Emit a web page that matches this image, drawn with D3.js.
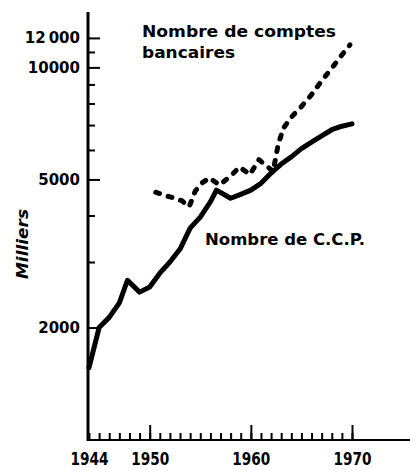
<!DOCTYPE html>
<html>
<head>
<meta charset="utf-8">
<script src="https://cdn.jsdelivr.net/npm/d3@7"></script>
<style>
  html, body { margin: 0; padding: 0; background: #fff; }
  svg { display: block; }
</style>
</head>
<body>
<div id="chart"></div>
<script>
// ── Data (milliers) ──────────────────────────────────────────────────────────
const ccpYears  = [1944, 1945, 1946, 1947, 1947.8, 1949, 1950, 1951, 1952, 1953, 1954, 1955, 1956, 1956.6, 1958, 1959, 1960, 1961, 1962, 1963, 1964, 1965, 1966, 1967, 1968, 1969, 1970];
const ccpValues = [1560, 2000, 2130, 2330, 2680, 2490, 2570, 2800, 3000, 3250, 3700, 3960, 4350, 4680, 4450, 4560, 4680, 4880, 5200, 5500, 5750, 6050, 6300, 6550, 6800, 6950, 7050];

const bankYears  = [1950.6, 1951.5, 1952.5, 1953.2, 1953.9, 1954.5, 1955.2, 1955.9, 1956.9, 1957.9, 1958.9, 1959.9, 1960.8, 1961.5, 1962.2, 1962.7, 1963.2, 1963.9, 1965, 1966, 1967, 1968, 1969, 1969.8];
const bankValues = [4620, 4530, 4450, 4380, 4220, 4650, 4900, 5050, 4830, 5080, 5400, 5150, 5650, 5450, 5250, 6200, 6850, 7300, 7850, 8450, 9200, 9950, 10800, 11500];

const yMajorTicks  = [2000, 5000, 10000, 12000];
const yTickLabels  = ['2000', '5000', '10000', '12\u2009000'];
const yMinorTicks  = [3000, 4000, 6000, 7000, 8000, 9000, 11000];
const xMajorYears  = [1944, 1950, 1960, 1970];
const xMinorYears  = d3.range(1944, 1971);

const bankLabel = ['Nombre de comptes', 'bancaires'];
const ccpLabel  = 'Nombre de C.C.P.';
const yTitle    = 'Milliers';

// ── Layout ───────────────────────────────────────────────────────────────────
const W = 410, H = 470;
const axisX = 88, axisY = 440;
const font = 'DejaVu Sans, Verdana, sans-serif';

const x = d3.scaleLinear().domain([1944, 1970]).range([89, 352]);
const y = d3.scaleLog().domain([1000, 14000]).range([439.6, 13]);

const svg = d3.select('#chart')
  .append('svg')
  .attr('width', W)
  .attr('height', H)
  .style('font-family', font);

// ── Y axis ───────────────────────────────────────────────────────────────────
const yMajor = svg.append('g')
  .attr('transform', `translate(${axisX},0)`)
  .call(d3.axisRight(y).tickValues(yMajorTicks).tickSize(12).tickFormat(''));
const yMinor = svg.append('g')
  .attr('transform', `translate(${axisX},0)`)
  .call(d3.axisRight(y).tickValues(yMinorTicks).tickSize(7).tickFormat(''));
[yMajor, yMinor].forEach(g => {
  g.select('.domain').remove();
  g.selectAll('line').attr('stroke', '#000').attr('stroke-width', 2);
});

const yLabels = svg.append('g')
  .attr('transform', `translate(${axisX},0)`)
  .call(d3.axisLeft(y).tickValues(yMajorTicks).tickSize(0).tickPadding(8)
    .tickFormat((d, i) => yTickLabels[i]));
yLabels.select('.domain').remove();
yLabels.selectAll('text')
  .attr('font-family', font)
  .attr('font-size', '15px')
  .attr('font-weight', 'bold')
  .attr('fill', '#000');

svg.append('line')
  .attr('x1', axisX).attr('x2', axisX)
  .attr('y1', 12).attr('y2', axisY + 1)
  .attr('stroke', '#000')
  .attr('stroke-width', 3);

svg.append('text')
  .attr('transform', `translate(28,244) rotate(-90)`)
  .attr('text-anchor', 'middle')
  .attr('font-size', '16px')
  .attr('font-weight', 'bold')
  .attr('font-style', 'italic')
  .attr('textLength', 70)
  .attr('lengthAdjust', 'spacingAndGlyphs')
  .text(yTitle);

// ── X axis ───────────────────────────────────────────────────────────────────
const xMinor = svg.append('g')
  .attr('transform', `translate(0,${axisY})`)
  .call(d3.axisTop(x).tickValues(xMinorYears).tickSize(7).tickFormat(''));
const xMajor = svg.append('g')
  .attr('transform', `translate(0,${axisY})`)
  .call(d3.axisTop(x).tickValues(xMajorYears.slice(1)).tickSize(15).tickFormat(''));
[xMinor, xMajor].forEach(g => {
  g.select('.domain').remove();
  g.selectAll('line').attr('stroke', '#000').attr('stroke-width', 2);
});

// labels sit low in the frame; keep their box inside the picture
const xLabels = svg.append('g')
  .attr('transform', `translate(0,${axisY})`)
  .call(d3.axisBottom(x).tickValues(xMajorYears).tickSize(0).tickPadding(0)
    .tickFormat(d3.format('d')));
xLabels.select('.domain').remove();
xLabels.selectAll('text')
  .attr('y', 0)
  .attr('dy', null)
  .attr('dominant-baseline', 'auto')
  .attr('transform', 'translate(0,25)')
  .attr('font-family', font)
  .attr('font-size', '18px')
  .attr('font-weight', 'bold')
  .attr('fill', '#000')
  .attr('textLength', 38)
  .attr('lengthAdjust', 'spacingAndGlyphs');

svg.append('line')
  .attr('x1', axisX).attr('x2', W)
  .attr('y1', axisY).attr('y2', axisY)
  .attr('stroke', '#000')
  .attr('stroke-width', 2);

// ── Lines ────────────────────────────────────────────────────────────────────
const line = d3.line()
  .x(d => x(d[0]))
  .y(d => y(d[1]));

svg.append('path')
  .datum(d3.zip(ccpYears, ccpValues))
  .attr('d', line)
  .attr('fill', 'none')
  .attr('stroke', '#000')
  .attr('stroke-width', 5)
  .attr('stroke-linejoin', 'round')
  .attr('stroke-linecap', 'round');

svg.append('path')
  .datum(d3.zip(bankYears, bankValues))
  .attr('d', line)
  .attr('fill', 'none')
  .attr('stroke', '#000')
  .attr('stroke-width', 5)
  .attr('stroke-dasharray', '4,9')
  .attr('stroke-linejoin', 'round')
  .attr('stroke-linecap', 'round');

// ── Labels ───────────────────────────────────────────────────────────────────
const titleLens = [194, 93];
bankLabel.forEach((t, i) => {
  svg.append('text')
    .attr('x', 142)
    .attr('y', 37 + i * 21)
    .attr('font-size', '16px')
    .attr('font-weight', 'bold')
    .attr('textLength', titleLens[i])
    .attr('lengthAdjust', 'spacingAndGlyphs')
    .text(t);
});

svg.append('text')
  .attr('x', 205)
  .attr('y', 245)
  .attr('font-size', '16px')
  .attr('font-weight', 'bold')
  .attr('textLength', 160)
  .attr('lengthAdjust', 'spacingAndGlyphs')
  .text(ccpLabel);
</script>
</body>
</html>
